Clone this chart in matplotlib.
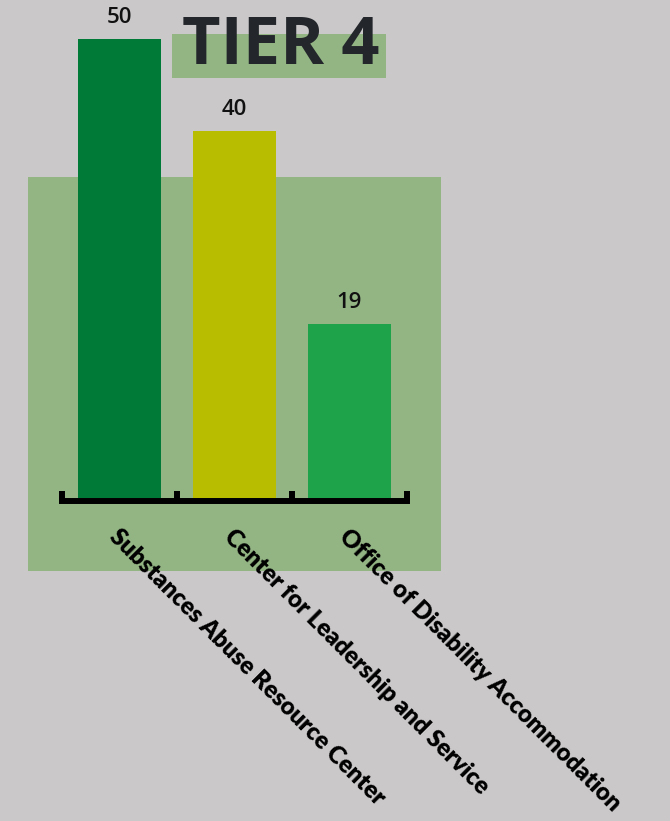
import matplotlib
matplotlib.use("Agg")
import matplotlib.pyplot as plt
from matplotlib.patches import Rectangle
from matplotlib.ticker import FixedLocator
from matplotlib.transforms import ScaledTranslation

# Data
categories = ["Substances Abuse Resource Center",
              "Center for Leadership and Service",
              "Office of Disability Accommodation"]
values = [50, 40, 19]
bar_colors = ["#007a37", "#b8bd00", "#1fa34a"]
title = "TIER 4"

BG = "#cac8c9"
PANEL = "#93b584"
W, H = 670, 821

fig = plt.figure(figsize=(W / 100, H / 100), dpi=100, facecolor=BG)

def px_rect(x0, y0, x1, y1, color):
    # rectangle given in figure pixels measured from the top-left corner
    fig.patches.append(Rectangle((x0 / W, 1 - y1 / H), (x1 - x0) / W, (y1 - y0) / H,
                                 transform=fig.transFigure, facecolor=color,
                                 edgecolor="none", zorder=-10))

# Background panels
px_rect(28, 177, 441, 571, PANEL)
px_rect(172, 34, 386, 78, PANEL)

fig.text(281 / W, 1 - 46 / H, title, ha="center", va="center",
         fontsize=48, fontweight="bold", family="Open Sans", color="#23262a")

# Axes: x spans -0.5..2.5 between px 62 and 407; y 0..50 between px 498 and 40
left, right, bottom, top = 62, 407, 498, 39
ax = fig.add_axes([left / W, 1 - bottom / H, (right - left) / W, (bottom - top) / H])
ax.patch.set_alpha(0)
ax.set_xlim(-0.5, 2.5)
ax.set_ylim(0, 50)

x = list(range(len(categories)))
bars = ax.bar(x, values, width=0.72, color=bar_colors, zorder=2)

for xi, v in zip(x, values):
    ax.annotate(f"{v}", (xi, v), xytext=(0, 11.5), textcoords="offset points",
                ha="center", va="baseline", fontsize=16, fontweight="semibold",
                family="Open Sans", color="#111111", annotation_clip=False)

for s in ["left", "right", "top"]:
    ax.spines[s].set_visible(False)
ax.spines["bottom"].set_linewidth(4.3)
ax.spines["bottom"].set_position(("outward", 2.2))
ax.spines["bottom"].set_capstyle("projecting")
ax.set_yticks([])

ax.set_xticks(x)
ax.set_xticklabels(categories, rotation=-45, ha="left", va="center",
                   rotation_mode="anchor", fontsize=17.2, fontweight="heavy",
                   family="Lato", color="#000000")
ax.tick_params(axis="x", which="major", length=0, pad=23)
shift = ScaledTranslation(-7 / 100, 0, fig.dpi_scale_trans)
for lbl in ax.get_xticklabels():
    lbl.set_transform(lbl.get_transform() + shift)
ax.xaxis.set_minor_locator(FixedLocator([-0.5, 0.5, 1.5, 2.5]))
ax.tick_params(axis="x", which="minor", direction="in", length=7.2, width=4.3,
               color="black")

fig.savefig("out.png", dpi=100, facecolor=BG)
